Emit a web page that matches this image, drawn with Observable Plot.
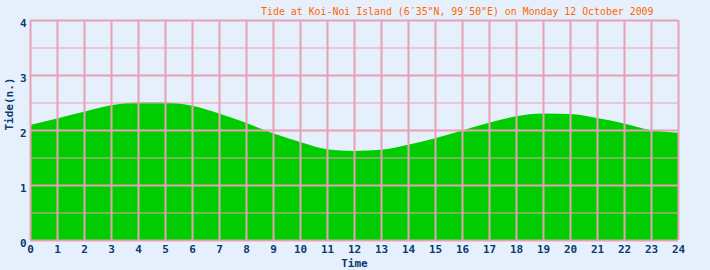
<!DOCTYPE html>
<html>
<head>
<meta charset="utf-8">
<script src="https://cdn.jsdelivr.net/npm/d3@7"></script>
<script src="https://cdn.jsdelivr.net/npm/@observablehq/plot@0.6"></script>
<style>
  html, body { margin: 0; padding: 0; background: #e6f0fc; }
</style>
</head>
<body>
<div id="chart"></div>
<script>
const titleText = "Tide at Koi-Noi Island (6\u203235\"N, 99\u203250\"E) on Monday 12 October 2009";
const hours = [0,1,2,3,4,5,6,7,8,9,10,11,12,13,14,15,16,17,18,19,20,21,22,23,24];
const tide  = [2.09,2.21,2.33,2.45,2.50,2.50,2.44,2.30,2.13,1.94,1.78,1.65,1.62,1.64,1.73,1.85,1.99,2.13,2.25,2.30,2.29,2.22,2.12,2.00,1.95];
const xTicks = [0,1,2,3,4,5,6,7,8,9,10,11,12,13,14,15,16,17,18,19,20,21,22,23,24];
const yTicks = [0,1,2,3,4];
const yHalf = [0.5,1.5,2.5,3.5];
const xLabel = "Time";
const yLabel = "Tide(n.)";

const data = hours.map((h, i) => ({h, v: tide[i]}));
const grid = "#e8a0b4";
const ink = "#0a3a6e";
const font = "'DejaVu Sans Mono', monospace";

const chart = Plot.plot({
  width: 710,
  height: 270,
  marginLeft: 30,
  marginRight: 32,
  marginTop: 20,
  marginBottom: 30,
  style: {background: "#e6f0fc", fontFamily: font, overflow: "visible"},
  x: {domain: [0, 24]},
  y: {domain: [0, 4]},
  marks: [
    Plot.areaY(data, {x: "h", y: "v", fill: "#00cc00", curve: "monotone-x"}),
    Plot.ruleY(yHalf, {stroke: grid, strokeWidth: 1}),
    Plot.ruleY(yTicks, {stroke: grid, strokeWidth: 2}),
    Plot.ruleX(xTicks, {stroke: grid, strokeWidth: 2}),
    Plot.axisX({ticks: xTicks, tickSize: 0, tickPadding: 5, tickFormat: d => String(d),
      label: null, fill: ink, fontWeight: "bold", fontSize: 11, fontFamily: font}),
    Plot.axisY({ticks: yTicks, tickSize: 0, tickPadding: 4, tickFormat: d => String(d),
      label: null, fill: ink, fontWeight: "bold", fontSize: 11, fontFamily: font, dy: 3}),
    Plot.text([xLabel], {frameAnchor: "bottom", dy: 26, fill: ink, fontWeight: "bold", fontSize: 11, fontFamily: font}),
    Plot.text([yLabel], {frameAnchor: "left", dx: -21, rotate: -90, fill: ink, fontWeight: "bold", fontSize: 11, fontFamily: font}),
    Plot.text([titleText], {frameAnchor: "top-right", dx: -25, dy: -13, textAnchor: "end", fill: "#ff6600", fontSize: 9.9, fontFamily: font})
  ]
});
document.getElementById("chart").appendChild(chart);
</script>
</body>
</html>
